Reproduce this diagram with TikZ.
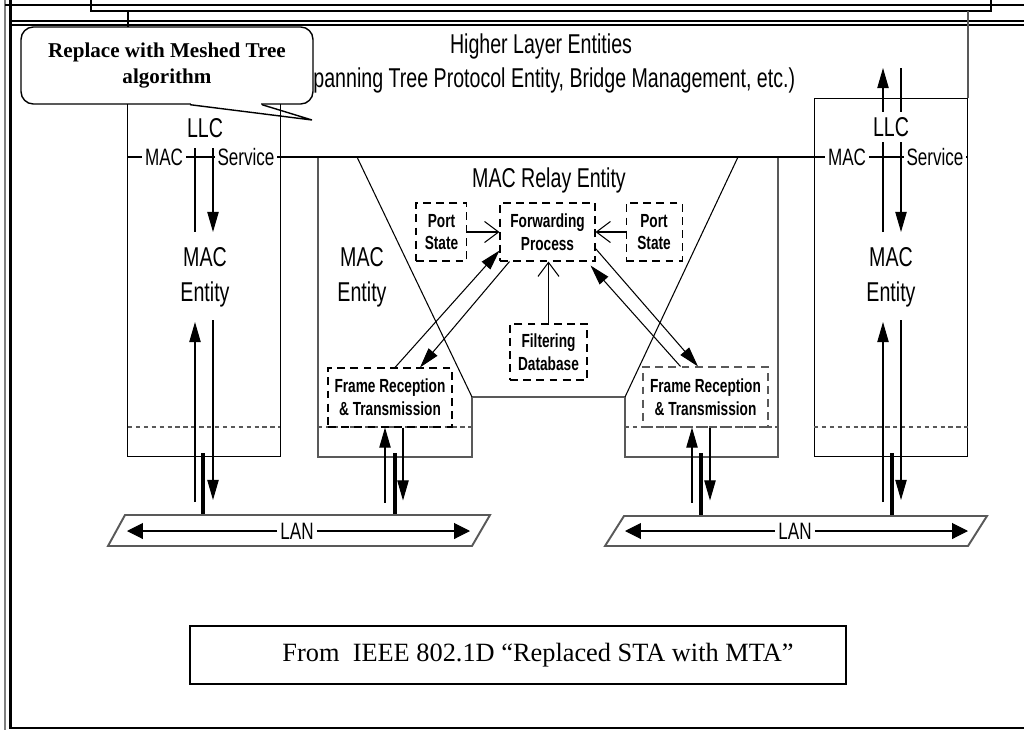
\documentclass[tikz,border=0pt]{standalone}
\usepackage{fontspec}
\setmainfont{Liberation Serif}
\setsansfont[FakeStretch=0.72]{Liberation Sans}
\usetikzlibrary{arrows.meta, positioning, calc}

\begin{document}
\begin{tikzpicture}[x=0.02cm, y=-0.02cm, line width=0.6pt,
	lbl/.style={font=\sffamily\fontsize{15.5}{20}\selectfont, align=center, inner sep=1pt},
	svc/.style={font=\sffamily\fontsize{13.5}{15}\selectfont, fill=white, inner sep=1.5pt},
	dbox/.style={draw, dash pattern=on 4.5pt off 3pt, align=center, inner sep=0pt,
		font=\sffamily\bfseries\fontsize{10.8}{13}\selectfont},
	stabox/.style={draw, minimum width=3.06cm, minimum height=7.18cm, inner sep=0pt},
	arr/.style={-{Triangle[width=6.5pt,length=11.5pt]}},
	lanarr/.style={-{Triangle[width=9pt,length=9pt]}},
	oarr/.style={-{Straight Barb[length=8pt,width=12pt]}},
	lanlink/.style={line width=2.3pt},
	portline/.style={dash pattern=on 2.5pt off 2pt, gray!70!black},
	lanedge/.style={draw=gray!70!black, line width=1.1pt},
	>=latex
	]
	\useasboundingbox (0,0) rectangle (1024,730);
	
	% page frame
	\draw[gray] (5,0) -- (5,730);
	\draw[line width=1.3pt] (10.5,0) -- (10.5,728) -- (1024,728);
	\draw[line width=1.1pt] (5,5) -- (1024,5);
	\draw[line width=1.1pt] (91,0) -- (91,11) -- (991,11) -- (991,0);
	\draw[line width=1.1pt] (10.5,21) -- (1024,21);
	\draw[line width=1.1pt] (10.5,25) -- (1024,25);
	
	% higher layer area and end stations
	\draw (128,11) -- (128,98);
	\draw[gray!70!black] (968,11) -- (968,98);
	\node[stabox] (StaL) at (204,277.5) {};
	\node[stabox] (StaR) at (891,277.5) {};
	
	% bridge outline and relay
	\draw[gray!70!black] (318,157) -- (318,457) -- (472,457) -- (472,397) -- (625,397)
		-- (625,457) -- (778,457) -- (778,157);
	\draw (357,157) -- (472,397);
	\draw (738,157) -- (625,397);
	\draw (128,157) -- (968,157);
	\foreach \a/\b in {128/280, 318/472, 625/778, 814/968}
		\draw[portline] (\a,427) -- (\b,427);
	
	% station service arrows
	\draw (195,148) -- (195,232);
	\draw[arr] (213,148) -- (213,232);
	\draw[arr] (883,232) -- (883,68);
	\draw[arr] (901,68) -- (901,232);
	\foreach \u/\d in {195/213, 883/901} {
		\draw[arr] (\u,502) -- (\u,322);
		\draw[arr] (\d,320) -- (\d,500);
	}
	\draw[lanlink] ([xshift=-0.02cm,yshift=0.08cm]StaL.south) -- ++(0,62);
	\draw[lanlink] ([xshift=0.02cm,yshift=0.08cm]StaR.south) -- ++(0,62);
	
	% texts
	\node[lbl] (hle) at (541,46) {Higher Layer Entities};
	\node[lbl] (hle2) at (544.5,80) {(Spanning Tree Protocol Entity, Bridge Management, etc.)};
	\node[lbl] (relay) at (549,180) {MAC Relay Entity};
	\node[lbl] (entL) at (205,277) {MAC\\Entity};
	\node[lbl] (entB) at (362,277) {MAC\\Entity};
	\node[lbl] (entR) at (891,277) {MAC\\Entity};
	\node[lbl, fill=white, inner sep=3pt] (llcL) at (205,128) {LLC};
	\node[lbl, fill=white, inner sep=3pt] (llcR) at (891,127) {LLC};
	\node[svc] (macL) at (164,157) {MAC};
	\node[svc] (srvL) at (246,157) {Service};
	\node[svc] (macR) at (847,157) {MAC};
	\node[svc] (srvR) at (935,157) {Service};
	
	% relay entity
	\node[dbox, minimum width=1.9cm, minimum height=1.16cm] (FP) at (547.5,232) {Forwarding\\Process};
	\node[dbox, minimum width=1.02cm, minimum height=1.16cm, left=0.64cm of FP] (PSL) {Port\\State};
	\node[dbox, minimum width=1.12cm, minimum height=1.16cm, right=0.6cm of FP] (PSR) {Port\\State};
	\node[dbox, minimum width=1.54cm, minimum height=1.12cm] (FDB) at (548.5,352) {Filtering\\Database};
	\node[dbox, minimum width=2.48cm, minimum height=1.18cm] (FRTL) at (390,397.5) {Frame Reception\\\& Transmission};
	\node[dbox, draw=gray!70!black, minimum width=2.5cm, minimum height=1.2cm] (FRTR) at (705.5,397) {Frame Reception\\\& Transmission};
	
	\draw[oarr] (PSL) -- (FP);
	\draw[oarr] (PSR) -- (FP);
	\draw[oarr] (FDB.north) -- (FDB.north |- FP.south);
	\draw[arr] ([xshift=0.1cm]FRTL.north) -- ([yshift=0.22cm]FP.south west);
	\draw[arr] ([xshift=0.2cm]FP.south west) -- ([xshift=0.6cm]FRTL.north);
	\draw[arr] ([yshift=0.26cm]FP.south east) -- ([xshift=-0.15cm]FRTR.north);
	\draw[arr] ([xshift=-0.5cm]FRTR.north) -- ([xshift=-0.1cm,yshift=-0.08cm]FP.south east);
	
	% bridge ports to the LANs
	\draw[arr] ([xshift=-0.1cm]FRTL.south) ++(0,75) -- ([xshift=-0.1cm]FRTL.south);
	\draw[arr] ([xshift=0.26cm]FRTL.south) -- ++(0,73);
	\draw[lanlink] (395,453) -- (395,515);
	\draw[arr] ([xshift=-0.27cm]FRTR.south) ++(0,75) -- ([xshift=-0.27cm]FRTR.south);
	\draw[arr] ([xshift=0.09cm]FRTR.south) -- ++(0,73);
	\draw[lanlink] (701,453) -- (701,515);
	
	% LANs
	\draw[lanedge] (125,515) -- (490,515) -- (472,546) -- (108,546) -- cycle;
	\draw[lanedge] (624,516) -- (987,516) -- (968,546) -- (605,546) -- cycle;
	\node[svc, fill=none] (lanL) at (297,531) {LAN};
	\node[svc, fill=none] (lanR) at (795,531) {LAN};
	\draw[lanarr] (lanL) -- (127,531);
	\draw[lanarr] (lanL) -- (470,531);
	\draw[lanarr] (lanR) -- (625,531);
	\draw[lanarr] (lanR) -- (968,531);
	
	% note
	\node[draw, fill=white, rounded corners=7pt, line width=0.8pt, minimum width=5.84cm,
		minimum height=1.54cm, align=center, font=\rmfamily\bfseries\fontsize{12}{14.5}\selectfont]
		(note) at (167,65.5) {Replace with Meshed Tree\\algorithm};
	\coordinate (tip) at (312,120);
	\fill[white] ([xshift=0.48cm,yshift=0.05cm]note.south) rectangle ([xshift=1.88cm,yshift=-0.05cm]note.south);
	\draw[line width=0.8pt] ([xshift=0.46cm]note.south) -- (tip) -- ([xshift=1.9cm]note.south);
	
	\node[draw, line width=0.8pt, minimum width=13.12cm, minimum height=1.16cm,
		font=\rmfamily\fontsize{15}{18}\selectfont] (src) at (518,655)
		{\hspace*{0.8cm}From\ \ IEEE 802.1D “Replaced STA with MTA”};
\end{tikzpicture}
\end{document}
